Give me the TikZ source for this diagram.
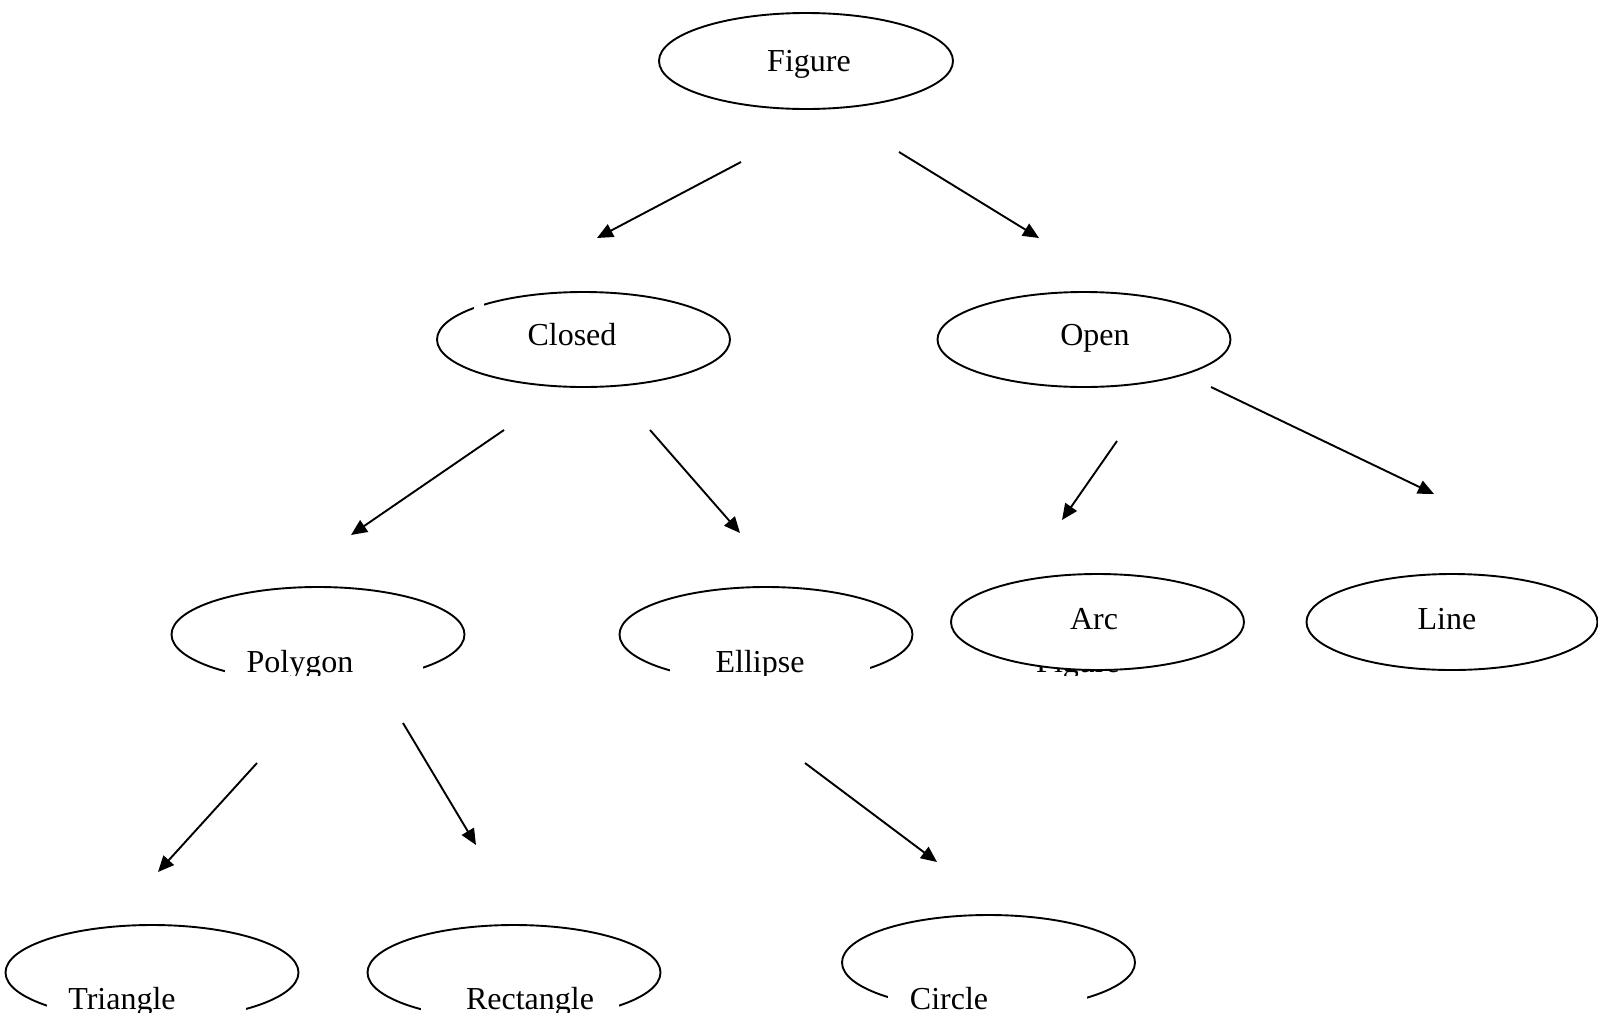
\documentclass[tikz,border=0pt]{standalone}
\usepackage{fontspec}
\setmainfont{Liberation Serif}
\usetikzlibrary{arrows.meta,shapes.geometric}

\tikzset{
  oval/.style={ellipse, draw, line width=1.9pt, inner sep=0pt, fill=white,
               minimum width=293pt, minimum height=95pt},
  tag/.style={anchor=base, inner sep=0pt, font=\fontsize{32}{38}\selectfont},
  link/.style={line width=1.9pt, -{Triangle[length=16pt,width=14pt]}},
  mask/.style={fill=white, draw=none},
}

\begin{document}
\begin{tikzpicture}[x=1pt,y=-1pt]
  \useasboundingbox (0,0) rectangle (1598,1015);
  \clip (0,0) rectangle (1598,1015);

  % arrow end points
  \coordinate (fc-s) at (741,162);  \coordinate (fc-e) at (597,238);
  \coordinate (fo-s) at (899,152);  \coordinate (fo-e) at (1039,238);
  \coordinate (cp-s) at (504,430);  \coordinate (cp-e) at (351,535);
  \coordinate (ce-s) at (650,430);  \coordinate (ce-e) at (740,533);
  \coordinate (oa-s) at (1117,441); \coordinate (oa-e) at (1062,520);
  \coordinate (ol-s) at (1211,387); \coordinate (ol-e) at (1434,494);
  \coordinate (pt-s) at (257,763);  \coordinate (pt-e) at (158,872);
  \coordinate (pr-s) at (403,723);  \coordinate (pr-e) at (476,845);
  \coordinate (ec-s) at (805,763);  \coordinate (ec-e) at (937,862);

  % connectors
  \draw[link] (fc-s) -- (fc-e);
  \draw[link] (fo-s) -- (fo-e);
  \draw[link] (cp-s) -- (cp-e);
  \draw[link] (ce-s) -- (ce-e);
  \draw[link] (oa-s) -- (oa-e);
  \draw[link] (ol-s) -- (ol-e);
  \draw[link] (pt-s) -- (pt-e);
  \draw[link] (pr-s) -- (pr-e);
  \draw[link] (ec-s) -- (ec-e);

  % top levels
  \node[oval, minimum width=294pt, minimum height=96pt] (figure) at (806,61) {};
  \node[tag] (figure-t) at (809,71) {Figure};

  \node[oval] (closed) at (583.5,339.5) {};
  \fill[mask] (473.5,295) rectangle (483.5,315);
  \node[tag] (closed-t) at (572,345) {Closed};

  \node[oval] (open) at (1084,339.5) {};
  \node[tag] (open-t) at (1095,345) {Open};

  % third level
  \node[oval] (polygon) at (318,634.5) {};
  \fill[mask] (225,645) rectangle (423,700);
  \begin{scope}
    \clip (225,640) rectangle (423,675);
    \node[tag] (polygon-t) at (300,672) {Polygon};
  \end{scope}

  \node[oval] (ellipse) at (766,634.5) {};
  \fill[mask] (670,645) rectangle (870,700);
  \begin{scope}
    \clip (670,640) rectangle (870,675);
    \node[tag] (ellipse-t) at (760,672) {Ellipse};
  \end{scope}

  \begin{scope}
    \clip (990,640) rectangle (1190,675);
    \node[tag] (hidden-t) at (1078,672) {Figure};
  \end{scope}
  \node[oval, minimum height=96pt] (arc) at (1097.5,622) {};
  \node[tag] (arc-t) at (1094,629) {Arc};

  \node[oval, minimum width=291pt, minimum height=96pt] (line) at (1452,622) {};
  \node[tag] (line-t) at (1447,629) {Line};

  % bottom level: the ovals run past the lower edge
  \begin{scope}
    \clip (0,0) rectangle (1598,1011);
    \node[oval] (triangle) at (152,972.5) {};
    \node[oval] (rectangle) at (514,972.5) {};
    \node[oval] (circle) at (988.5,962.5) {};
  \end{scope}

  \fill[mask] (47,985) rectangle (246,1030);
  \begin{scope}
    \clip (47,975) rectangle (246,1012);
    \node[tag] (triangle-t) at (122,1009) {Triangle};
  \end{scope}

  \fill[mask] (421,985) rectangle (619,1030);
  \begin{scope}
    \clip (421,975) rectangle (619,1012);
    \node[tag] (rectangle-t) at (530,1009) {Rectangle};
  \end{scope}

  \fill[mask] (888,975) rectangle (1087,1030);
  \begin{scope}
    \clip (888,965) rectangle (1087,1012);
    \node[tag] (circle-t) at (949,1009) {Circle};
  \end{scope}
\end{tikzpicture}
\end{document}
